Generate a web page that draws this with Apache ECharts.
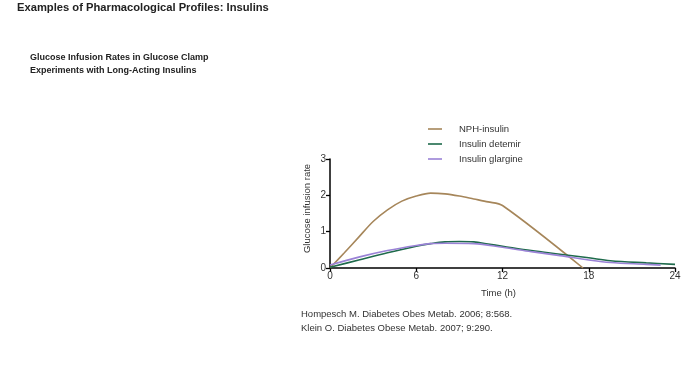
<!DOCTYPE html>
<html>
<head>
<meta charset="utf-8">
<style>html,body{margin:0;padding:0;background:#fff;}#c{width:700px;height:375px;}</style>
<script src="https://cdn.jsdelivr.net/npm/echarts@6/dist/echarts.min.js"></script>
</head>
<body>
<div id="c"></div>
<script>
const xTicks = [0, 6, 12, 18, 24];
const yTicks = [0, 1, 2, 3];
const seriesNames = ['NPH-insulin', 'Insulin detemir', 'Insulin glargine'];
const nphData = [[0,0],[1,0.42],[2,0.85],[3,1.28],[4,1.6],[5,1.84],[6,1.98],[7,2.06],[8,2.04],[9,1.98],[10,1.9],[11,1.82],[12,1.72],[17.6,0]];
const detemirData = [[0,0.02],[2,0.22],[4,0.42],[6,0.6],[7,0.67],[8,0.72],[9,0.73],[10,0.72],[11,0.66],[12,0.6],[14,0.48],[16,0.38],[18,0.28],[19.5,0.2],[22,0.14],[24,0.1]];
const glargineData = [[0,0.08],[2,0.3],[4,0.48],[6,0.62],[7,0.67],[8,0.68],[10,0.67],[12,0.57],[14,0.45],[16,0.34],[18,0.22],[19.5,0.15],[22,0.1],[23,0.08]];
const colors = ['#a6865a', '#1f6b4c', '#9a82d6'];

const chart = echarts.init(document.getElementById('c'));
const txt = '#333';
const ff = 'Liberation Sans, Arial';
chart.setOption({
  animation: false,
  title: [
    {text: 'Examples of Pharmacological Profiles: Insulins', left: 17, top: 2, padding: 0,
     textStyle: {fontFamily: ff, fontSize: 11.2, fontWeight: 'bold', color: '#222'}},
    {text: 'Glucose Infusion Rates in Glucose Clamp\nExperiments with Long-Acting Insulins', left: 30, top: 51, padding: 0,
     textStyle: {fontFamily: ff, fontSize: 9, fontWeight: 'bold', color: '#222', lineHeight: 13}},
    {text: 'Hompesch M. Diabetes Obes Metab. 2006; 8:568.\nKlein O. Diabetes Obese Metab. 2007; 9:290.', left: 301, top: 307, padding: 0,
     textStyle: {fontFamily: ff, fontSize: 9.5, fontWeight: 'normal', color: txt, lineHeight: 14}}
  ],
  legend: {
    orient: 'vertical', left: 428, top: 124, padding: 0, itemGap: 5, itemWidth: 14, itemHeight: 11,
    data: seriesNames.map(n => ({name: n, icon: 'path://M0,5 L14,5 L14,6.6 L0,6.6 Z'})),
    textStyle: {fontFamily: ff, fontSize: 9.5, color: txt, padding: [0,0,0,12]}
  },
  grid: {left: 330, right: 25, top: 159, bottom: 107},
  xAxis: {
    type: 'value', min: 0, max: 24, interval: 6,
    name: 'Time (h)', nameLocation: 'middle', nameGap: 20,
    nameTextStyle: {fontFamily: ff, fontSize: 9.5, color: txt, padding: [0, 8, 0, 0]},
    axisLine: {lineStyle: {color: '#000', width: 1.5}},
    axisTick: {show: true, length: 4, lineStyle: {color: '#000', width: 1.3}},
    axisLabel: {fontFamily: ff, fontSize: 10, color: txt, margin: 3,
      customValues: xTicks},
    splitLine: {show: false}
  },
  yAxis: {
    type: 'value', min: 0, max: 3, interval: 1,
    name: 'Glucose infusion rate', nameLocation: 'middle', nameGap: 18,
    nameTextStyle: {fontFamily: ff, fontSize: 9.5, color: txt, padding: [0, 0, 0, 10]},
    axisLine: {show: true, lineStyle: {color: '#000', width: 1.5}},
    axisTick: {show: true, length: 4, lineStyle: {color: '#000', width: 1.3}},
    axisLabel: {fontFamily: ff, fontSize: 10, color: txt, margin: 4, customValues: yTicks},
    splitLine: {show: false}
  },
  series: [
    {name: seriesNames[0], type: 'line', data: nphData, smooth: 0.3, showSymbol: false, lineStyle: {color: colors[0], width: 1.6}, itemStyle: {color: colors[0]}},
    {name: seriesNames[1], type: 'line', data: detemirData, smooth: 0.35, showSymbol: false, lineStyle: {color: colors[1], width: 1.6}, itemStyle: {color: colors[1]}},
    {name: seriesNames[2], type: 'line', data: glargineData, smooth: 0.35, showSymbol: false, lineStyle: {color: colors[2], width: 1.6}, itemStyle: {color: colors[2]}}
  ]
});
</script>
</body>
</html>
